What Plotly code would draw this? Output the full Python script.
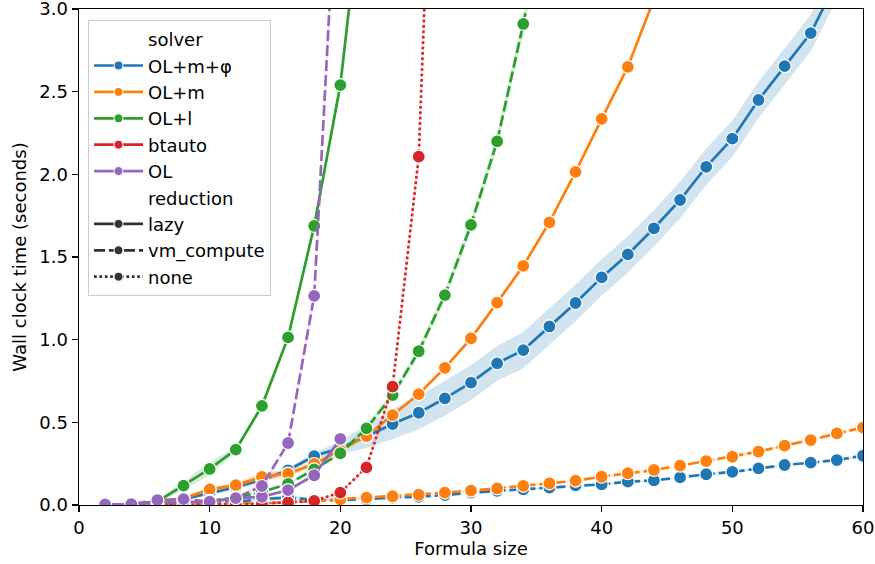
import plotly.graph_objects as go

# ---------------- data ----------------
x_full = [2, 4, 6, 8, 10, 12, 14, 16, 18, 20, 22, 24, 26, 28, 30, 32, 34, 36, 38,
          40, 42, 44, 46, 48, 50, 52, 54, 56, 58, 60]

# OL+m+phi, lazy
olmphi_lazy_x = x_full[:29]
olmphi_lazy_y = [0.003, 0.006, 0.02, 0.035, 0.072, 0.107, 0.152, 0.21, 0.296, 0.345,
                 0.415, 0.49, 0.558, 0.645, 0.74, 0.857, 0.937, 1.08, 1.222, 1.377,
                 1.516, 1.674, 1.845, 2.046, 2.216, 2.45, 2.655, 2.855, 3.17]
olmphi_lazy_ci = [0.002, 0.003, 0.006, 0.008, 0.01, 0.012, 0.014, 0.016, 0.018, 0.04,
                  0.07, 0.09, 0.1, 0.105, 0.105, 0.105, 0.11, 0.11, 0.11, 0.11,
                  0.11, 0.11, 0.11, 0.11, 0.11, 0.11, 0.11, 0.11, 0.11]

# OL+m+phi, vm_compute
olmphi_vm_x = x_full
olmphi_vm_y = [0.002, 0.003, 0.005, 0.008, 0.012, 0.02, 0.035, 0.045, 0.03, 0.03,
               0.035, 0.045, 0.05, 0.06, 0.075, 0.085, 0.095, 0.105, 0.119, 0.125,
               0.141, 0.149, 0.167, 0.186, 0.2, 0.222, 0.242, 0.256, 0.272, 0.298]
olmphi_vm_ci = [0.001, 0.001, 0.002, 0.003, 0.004, 0.006, 0.01, 0.015, 0.008, 0.005,
                0.004, 0.004, 0.004, 0.004, 0.004, 0.004, 0.004, 0.004, 0.004, 0.004,
                0.004, 0.004, 0.004, 0.005, 0.005, 0.005, 0.005, 0.005, 0.005, 0.005]

# OL+m, lazy
olm_lazy_x = x_full[:22]
olm_lazy_y = [0.003, 0.005, 0.02, 0.04, 0.095, 0.12, 0.17, 0.19, 0.248, 0.33,
              0.417, 0.544, 0.671, 0.83, 1.008, 1.224, 1.447, 1.71, 2.015, 2.336,
              2.65, 3.06]
olm_lazy_ci = [0.002, 0.003, 0.006, 0.01, 0.012, 0.015, 0.028, 0.02, 0.012, 0.01,
               0.01, 0.01, 0.01, 0.01, 0.01, 0.01, 0.01, 0.01, 0.01, 0.01,
               0.01, 0.01]

# OL+m, vm_compute
olm_vm_x = x_full
olm_vm_y = [0.002, 0.003, 0.005, 0.006, 0.008, 0.01, 0.012, 0.015, 0.022, 0.035,
            0.045, 0.053, 0.062, 0.075, 0.087, 0.1, 0.116, 0.131, 0.147, 0.171,
            0.192, 0.212, 0.238, 0.266, 0.292, 0.323, 0.359, 0.393, 0.433, 0.468]
olm_vm_ci = [0.001, 0.001, 0.002, 0.002, 0.003, 0.003, 0.003, 0.004, 0.004, 0.004,
             0.004, 0.004, 0.005, 0.005, 0.005, 0.005, 0.005, 0.005, 0.006, 0.006,
             0.006, 0.006, 0.007, 0.007, 0.007, 0.008, 0.008, 0.008, 0.009, 0.009]

# OL+l, lazy
oll_lazy_x = x_full[:11]
oll_lazy_y = [0.003, 0.005, 0.02, 0.117, 0.218, 0.335, 0.6, 1.014, 1.688, 2.54, 3.93]
oll_lazy_ci = [0.002, 0.003, 0.008, 0.025, 0.04, 0.015, 0.015, 0.02, 0.03, 0.04, 0.05]

# OL+l, vm_compute
oll_vm_x = x_full[:18]
oll_vm_y = [0.002, 0.004, 0.01, 0.015, 0.025, 0.045, 0.08, 0.127, 0.215, 0.313,
            0.464, 0.665, 0.93, 1.27, 1.695, 2.2, 2.91, 3.75]
oll_vm_ci = [0.001, 0.002, 0.003, 0.004, 0.005, 0.006, 0.007, 0.008, 0.01, 0.012,
             0.015, 0.02, 0.025, 0.03, 0.035, 0.04, 0.05, 0.06]

# btauto, none
btauto_x = x_full[:14]
btauto_y = [0.001, 0.001, 0.002, 0.002, 0.003, 0.004, 0.008, 0.015, 0.025, 0.075,
            0.228, 0.716, 2.107, 6.3]
btauto_ci = [0.0005, 0.0005, 0.001, 0.001, 0.001, 0.002, 0.002, 0.003, 0.004, 0.006,
             0.01, 0.02, 0.05, 0.1]

# OL, lazy
ol_lazy_x = x_full[:10]
ol_lazy_y = [0.003, 0.005, 0.012, 0.015, 0.02, 0.042, 0.05, 0.09, 0.18, 0.40]
ol_lazy_ci = [0.001, 0.002, 0.003, 0.004, 0.005, 0.006, 0.007, 0.008, 0.01, 0.012]

# OL, vm_compute
ol_vm_x = x_full[:10]
ol_vm_y = [0.003, 0.005, 0.03, 0.036, 0.02, 0.042, 0.115, 0.375, 1.265, 4.25]
ol_vm_ci = [0.001, 0.002, 0.004, 0.005, 0.005, 0.006, 0.008, 0.012, 0.03, 0.08]

solvers = ["OL+m+φ", "OL+m", "OL+l", "btauto", "OL"]
reductions = ["lazy", "vm_compute", "none"]

x_ticks = [0, 10, 20, 30, 40, 50, 60]
y_ticks = [0, 0.5, 1, 1.5, 2, 2.5, 3]
y_ticktext = ["0.0", "0.5", "1.0", "1.5", "2.0", "2.5", "3.0"]

# ---------------- styles ----------------
solver_colors = {
    "OL+m+φ": (31, 119, 180),
    "OL+m": (255, 127, 14),
    "OL+l": (44, 160, 44),
    "btauto": (214, 39, 40),
    "OL": (148, 103, 189),
}
LW = 2.7
reduction_dash = {
    "lazy": "solid",
    "vm_compute": "11px,4px",
    "none": "2.7px,2.7px",
}

series = [
    ("OL+m+φ", "lazy", olmphi_lazy_x, olmphi_lazy_y, olmphi_lazy_ci),
    ("OL+m+φ", "vm_compute", olmphi_vm_x, olmphi_vm_y, olmphi_vm_ci),
    ("OL+m", "lazy", olm_lazy_x, olm_lazy_y, olm_lazy_ci),
    ("OL+m", "vm_compute", olm_vm_x, olm_vm_y, olm_vm_ci),
    ("OL+l", "lazy", oll_lazy_x, oll_lazy_y, oll_lazy_ci),
    ("OL+l", "vm_compute", oll_vm_x, oll_vm_y, oll_vm_ci),
    ("btauto", "none", btauto_x, btauto_y, btauto_ci),
    ("OL", "lazy", ol_lazy_x, ol_lazy_y, ol_lazy_ci),
    ("OL", "vm_compute", ol_vm_x, ol_vm_y, ol_vm_ci),
]

FONT = "DejaVu Sans"
FS = 18

fig = go.Figure()

for solver, red, xs, ys, ci in series:
    r, g, b = solver_colors[solver]
    upper = [v + c for v, c in zip(ys, ci)]
    lower = [max(v - c, 0) for v, c in zip(ys, ci)]
    fig.add_trace(go.Scatter(
        x=list(xs) + list(xs)[::-1],
        y=upper + lower[::-1],
        fill="toself",
        fillcolor=f"rgba({r},{g},{b},0.2)",
        line=dict(width=0),
        mode="lines",
        hoverinfo="skip",
        showlegend=False,
    ))
    fig.add_trace(go.Scatter(
        x=xs, y=ys,
        mode="lines+markers",
        line=dict(color=f"rgb({r},{g},{b})", width=LW, dash=reduction_dash[red]),
        marker=dict(size=13, color=f"rgb({r},{g},{b})",
                    line=dict(color="white", width=1.2)),
        showlegend=False,
        hoverinfo="skip",
        name=f"{solver} / {red}",
    ))

# ---------------- legend (seaborn style, titles as pseudo-entries) ----------------
def legend_title(text):
    fig.add_trace(go.Scatter(
        x=[None], y=[None], mode="lines",
        line=dict(width=0, color="rgba(0,0,0,0)"),
        name=text, showlegend=True,
    ))

legend_title("solver")
for s in solvers:
    r, g, b = solver_colors[s]
    fig.add_trace(go.Scatter(
        x=[None], y=[None], mode="lines+markers", name=s,
        line=dict(color=f"rgb({r},{g},{b})", width=LW),
        marker=dict(size=9, color=f"rgb({r},{g},{b})", line=dict(color="white", width=1)),
    ))
legend_title("reduction")
for red in reductions:
    fig.add_trace(go.Scatter(
        x=[None], y=[None], mode="lines+markers", name=red,
        line=dict(color="#333333", width=LW, dash=reduction_dash[red]),
        marker=dict(size=9, color="#333333", line=dict(color="white", width=1)),
    ))

axis_common = dict(
    showline=True, linecolor="black", linewidth=1.4, mirror=True,
    ticks="outside", ticklen=6, tickwidth=1.4, tickcolor="black",
    showgrid=False, zeroline=False, ticklabeloverflow="allow", automargin=False,
    tickfont=dict(family=FONT, size=FS, color="black"),
)

fig.update_layout(
    width=875, height=564, autosize=False,
    margin=dict(l=79, r=12, t=9, b=59),
    paper_bgcolor="white", plot_bgcolor="white",
    font=dict(family=FONT, size=FS, color="black"),
    xaxis=dict(range=[0, 60], tickvals=x_ticks,
               title=dict(text="Formula size", font=dict(family=FONT, size=FS), standoff=4),
               **axis_common),
    yaxis=dict(range=[0, 3.0005], tickvals=y_ticks, ticktext=y_ticktext,
               title=dict(text="Wall clock time (seconds)", font=dict(family=FONT, size=FS), standoff=8),
               **axis_common),
    legend=dict(
        x=0.0115, y=0.978, xanchor="left", yanchor="top",
        bgcolor="rgba(255,255,255,0.85)", bordercolor="#cccccc", borderwidth=1,
        font=dict(family=FONT, size=FS, color="black"),
        itemwidth=49, traceorder="normal",
    ),
    showlegend=True,
    hovermode=False,
)

# remove the default 8px body margin so the figure sits at the page origin
fig.write_html(
    "out.html",
    config={"displayModeBar": False, "responsive": False, "staticPlot": True},
    post_script=(
        "document.body.style.margin='0';"
        "document.body.style.overflow='hidden';"
    ),
)
